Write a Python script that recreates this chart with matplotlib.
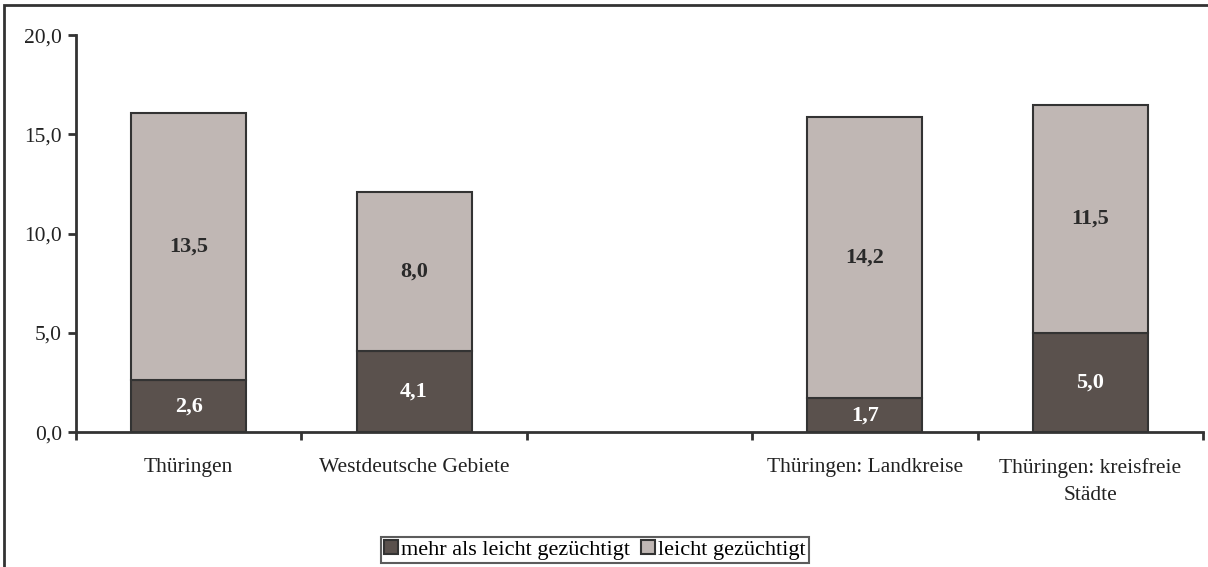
import matplotlib.pyplot as plt
import matplotlib.patches as mpatches
import numpy as np

categories = ["Thüringen", "Westdeutsche Gebiete", "", "Thüringen: Landkreise", "Thüringen: kreisfreie\nStädte"]
mehr = [2.6, 4.1, None, 1.7, 5.0]
leicht = [13.5, 8.0, None, 14.2, 11.5]
series_names = ["mehr als leicht gezüchtigt", "leicht gezüchtigt"]

dark = "#5a514d"
light = "#c0b7b4"
edge = "#333333"

plt.rcParams['font.family'] = ['Liberation Serif', 'DejaVu Serif']

fig = plt.figure(figsize=(12.08, 5.67), dpi=100)
ax = fig.add_axes([0.0629, 0.238, 0.933, 0.700])

# outer frame of the figure
fig.patches.append(mpatches.Rectangle((4 / 1208, -0.05), 1.2, 1 - 5 / 567 + 0.05,
                                      transform=fig.transFigure, fill=False,
                                      edgecolor=edge, linewidth=2))

idx = [i for i, v in enumerate(mehr) if v is not None]
x = np.array(idx) + 0.5
m = np.array([mehr[i] for i in idx])
l = np.array([leicht[i] for i in idx])

b1 = ax.bar(x, m, width=0.51, color=dark, edgecolor=edge, linewidth=1.5, label=series_names[0])
b2 = ax.bar(x, l, width=0.51, bottom=m, color=light, edgecolor=edge, linewidth=1.5, label=series_names[1])

for xi, mi, li in zip(x, m, l):
    ax.text(xi, mi / 2, f"{mi:.1f}".replace(".", ","), ha="center", va="center",
            color="white", fontsize=16, fontweight="bold")
    ax.text(xi, mi + li / 2, f"{li:.1f}".replace(".", ","), ha="center", va="center",
            color="#2a2a2a", fontsize=16, fontweight="bold")

ax.set_xlim(0, len(categories))
ax.set_ylim(0, 20)
ax.set_yticks(np.arange(0, 20.1, 5))
ax.set_yticklabels([f"{v:.1f}".replace(".", ",") for v in np.arange(0, 20.1, 5)])
ax.set_xticks(np.arange(0, len(categories) + 1))
ax.set_xticklabels([])
ax.set_xticks(np.arange(len(categories)) + 0.5, minor=True)
ax.set_xticklabels(categories, minor=True, linespacing=1.55)
ax.tick_params(axis="x", which="minor", length=0, pad=19, labelsize=15.5, colors="#222222")
ax.tick_params(axis="x", which="major", length=6, width=2, color=edge, direction="out")
ax.tick_params(axis="y", length=6, width=2, color=edge, labelsize=15.5, labelcolor="#222222", pad=4)

for s in ["top", "right"]:
    ax.spines[s].set_visible(False)
for s in ["left", "bottom"]:
    ax.spines[s].set_color(edge)
    ax.spines[s].set_linewidth(2)

leg = fig.legend(handles=[b1, b2], loc="center", bbox_to_anchor=(595 / 1208, 1 - 550 / 567),
                 ncol=2, frameon=True, fancybox=False, fontsize=16, handlelength=0.6,
                 handleheight=0.6, handletextpad=0.15, columnspacing=0.5, borderpad=0.15,
                 borderaxespad=0)
leg.get_frame().set_edgecolor(edge)
leg.get_frame().set_linewidth(1.5)

fig.savefig("out.png", dpi=100)
